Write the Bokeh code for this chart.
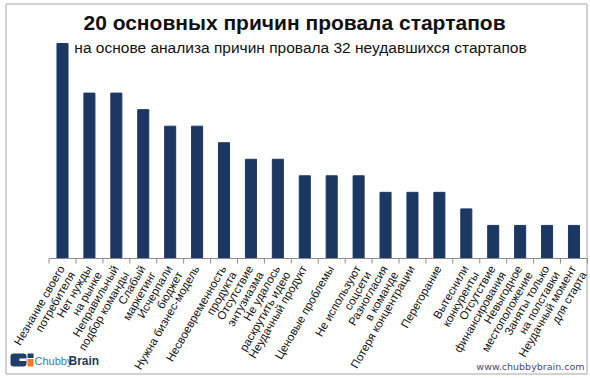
from bokeh.plotting import figure
from bokeh.models import ColumnDataSource, Range1d
from bokeh.core.properties import value
from bokeh.embed import file_html
from bokeh.resources import INLINE

title = "20 основных причин провала стартапов"
subtitle = "на основе анализа причин провала 32 неудавшихся стартапов"

categories = [
    "Незнание своего\nпотребителя",
    "Нет нужды\nна рынке",
    "Неправильный\nподбор команды",
    "Слабый\nмаркетинг",
    "Исчерпали\nбюджет",
    "Нужна бизнес-модель",
    "Несвоевременность\nпродукта",
    "Отсутствие\nэнтузиазма",
    "Не удалось\nраскрутить идею",
    "Неудачный продукт",
    "Ценовые проблемы",
    "Не используют\nсоцсети",
    "Разногласия\nв команде",
    "Потеря концентрации",
    "Перегорание",
    "Вытеснили\nконкуренты",
    "Отсутствие\nфинансирования",
    "Невыгодное\nместоположение",
    "Заняты только\nна полставки",
    "Неудачный момент\nдля старта",
]
values = [13, 10, 10, 9, 8, 8, 7, 6, 6, 5, 5, 5, 4, 4, 4, 3, 2, 2, 2, 2]

# pixel geometry helpers (layout only)
W, H = 590, 378
C0, STEP = 62.0, 26.92
BASE, UNIT = 258.0, 16.54


def px(x):
    return (x - C0) / STEP


def py(y):
    return (BASE - y) / UNIT


idx = list(range(len(categories)))
src = ColumnDataSource(dict(x=idx, value=values, label=categories))

p = figure(
    width=W, height=H,
    x_range=Range1d(px(0), px(W)),
    y_range=Range1d(py(H), py(0)),
    output_backend="svg", toolbar_location=None,
    x_axis_location=None, y_axis_location=None,
    min_border=0,
)
p.grid.visible = False
p.outline_line_color = None
p.background_fill_color = "white"
p.border_fill_color = "white"

FONT = value("Liberation Sans")

# outer frame
p.quad(left=[px(5.5)], right=[px(586.5)], top=[py(3.5)], bottom=[py(373.5)],
       fill_color=None, line_color="#a6a6a6", line_width=1)

# bars
p.vbar(x="x", top="value", width=0.41, bottom=0, source=src,
       fill_color="#1c3862", line_color="#1c3862")

# baseline and boundary ticks
n = len(categories)
p.segment(x0=[-0.5], y0=[0], x1=[n - 0.5], y1=[0], line_color="#8c8c8c", line_width=1)
bounds = [i - 0.5 for i in range(n + 1)]
p.segment(x0=bounds, y0=[0] * len(bounds), x1=bounds, y1=[-5 / UNIT] * len(bounds),
          line_color="#8c8c8c", line_width=1)

# category labels
p.text(x="x", y=-5 / UNIT, text="label", source=src, angle=60, angle_units="deg",
       x_offset=-6, text_align="right", text_baseline="top",
       text_font=FONT, text_font_size="11.5px", text_color="#111111",
       text_line_height=1.0)

# titles
p.text(x=[px(294)], y=[py(22)], text=[title], text_align="center", text_baseline="middle",
       text_font=FONT, text_font_size="21px", text_font_style="bold", text_color="#111111")
p.text(x=[px(300)], y=[py(47)], text=[subtitle], text_align="center", text_baseline="middle",
       text_font=FONT, text_font_size="15.5px", text_color="#111111")

# logo
p.quad(left=[px(10)], right=[px(26)], top=[py(353)], bottom=[py(366)],
       fill_color="#1f3f66", line_color=None, border_radius=3)
p.quad(left=[px(19)], right=[px(26)], top=[py(358)], bottom=[py(360.5)],
       fill_color="white", line_color=None)
p.quad(left=[px(27)], right=[px(33)], top=[py(353)], bottom=[py(357.5)],
       fill_color="#1f3f66", line_color=None)
p.quad(left=[px(27)], right=[px(33)], top=[py(358.5)], bottom=[py(366)],
       fill_color="#f07d1e", line_color=None)
p.text(x=[px(34)], y=[py(360)], text=["Chubby"], text_align="left", text_baseline="middle",
       text_font=FONT, text_font_size="11px", text_color="#2f7ab8")
p.text(x=[px(68)], y=[py(360)], text=["Brain"], text_align="left", text_baseline="middle",
       text_font=FONT, text_font_size="12px", text_font_style="bold", text_color="#26395a")

p.text(x=[px(584)], y=[py(366)], text=["www.chubbybrain.com"], text_align="right",
       text_baseline="middle", text_font=value("DejaVu Sans"), text_font_size="9.5px",
       text_color="#4a4a6a")

open("out.html", "w").write(file_html(p, INLINE))
